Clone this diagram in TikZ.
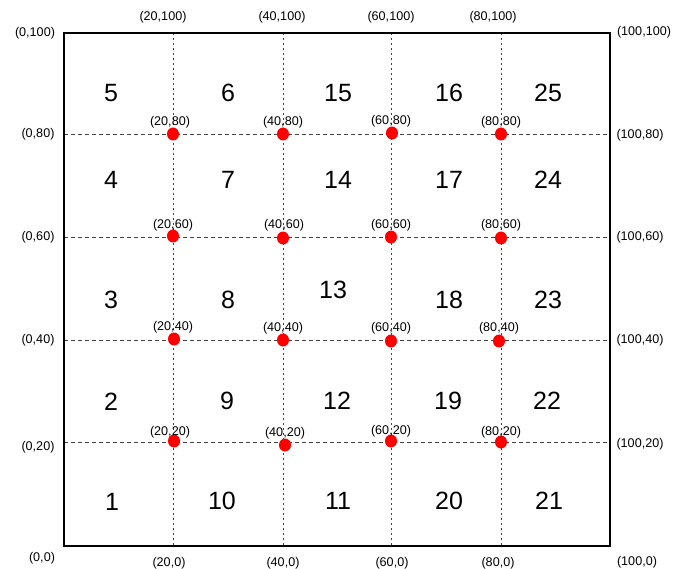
\documentclass[tikz,border=0pt]{standalone}
\usepackage{fontspec}
\setmainfont{Liberation Sans}
\usetikzlibrary{shapes.geometric}
\begin{document}
\begin{tikzpicture}[x=1pt,y=-1pt,
  lbl/.style={font=\fontsize{12.6}{12.6}\selectfont, inner sep=0pt},
  num/.style={font=\fontsize{25}{25}\selectfont, inner sep=0pt},
  hgrid/.style={draw=black!75, line width=0.8pt, dash pattern=on 4pt off 3pt},
  vgrid/.style={draw=black!75, line width=0.9pt, dash pattern=on 2pt off 3pt},
  pt/.style={ellipse, fill=red, inner sep=0pt, minimum width=12pt, minimum height=13pt},
  frame/.style={draw=black, line width=2pt}]
\useasboundingbox (0,0) rectangle (682,569);
% frame corners
\coordinate (TL) at (64,33);
\coordinate (BR) at (610,546);
% grid line ends
\coordinate (v1t) at (173,33); \coordinate (v1b) at (173,546);
\coordinate (v2t) at (283,33); \coordinate (v2b) at (283,546);
\coordinate (v3t) at (391,33); \coordinate (v3b) at (391,546);
\coordinate (v4t) at (501,33); \coordinate (v4b) at (501,546);
\coordinate (h1l) at (64,134); \coordinate (h1r) at (610,134);
\coordinate (h2l) at (64,237); \coordinate (h2r) at (610,237);
\coordinate (h3l) at (64,340); \coordinate (h3r) at (610,340);
\coordinate (h4l) at (64,442); \coordinate (h4r) at (610,442);
\draw[hgrid] (h1l) -- (h1r);
\draw[hgrid] (h2l) -- (h2r);
\draw[hgrid] (h3l) -- (h3r);
\draw[hgrid] (h4l) -- (h4r);
\draw[vgrid] (v1t) -- (v1b);
\draw[vgrid] (v2t) -- (v2b);
\draw[vgrid] (v3t) -- (v3b);
\draw[vgrid] (v4t) -- (v4b);
\draw[frame] (TL) rectangle (BR);
% red points
\node[pt] (p2080) at (173,134) {};
\node[pt] (p4080) at (283,134) {};
\node[pt] (p6080) at (392,133) {};
\node[pt] (p8080) at (501,134) {};
\node[pt] (p2060) at (173,236) {};
\node[pt] (p4060) at (283,238) {};
\node[pt] (p6060) at (391,237) {};
\node[pt] (p8060) at (501,238) {};
\node[pt] (p2040) at (174,339) {};
\node[pt] (p4040) at (283,340) {};
\node[pt] (p6040) at (391,341) {};
\node[pt] (p8040) at (499,341) {};
\node[pt] (p2020) at (174,441) {};
\node[pt] (p4020) at (285,445) {};
\node[pt] (p6020) at (391,441) {};
\node[pt] (p8020) at (501,442) {};
% point labels
\node[lbl] (l2080) at (170,122) {(20,80)};
\node[lbl] (l4080) at (283,122) {(40,80)};
\node[lbl] (l6080) at (391,121) {(60,80)};
\node[lbl] (l8080) at (501,122) {(80,80)};
\node[lbl] (l2060) at (173,225) {(20,60)};
\node[lbl] (l4060) at (284,225) {(40,60)};
\node[lbl] (l6060) at (391,225) {(60,60)};
\node[lbl] (l8060) at (501,225) {(80,60)};
\node[lbl] (l2040) at (173,327) {(20,40)};
\node[lbl] (l4040) at (283,328) {(40,40)};
\node[lbl] (l6040) at (391,328) {(60,40)};
\node[lbl] (l8040) at (499,328) {(80,40)};
\node[lbl] (l2020) at (170,432) {(20,20)};
\node[lbl] (l4020) at (285,433) {(40,20)};
\node[lbl] (l6020) at (391,431) {(60,20)};
\node[lbl] (l8020) at (501,432) {(80,20)};
% border labels
\node[lbl] (t0) at (35,33) {(0,100)};
\node[lbl] (t20) at (163,17) {(20,100)};
\node[lbl] (t40) at (282,17) {(40,100)};
\node[lbl] (t60) at (391,17) {(60,100)};
\node[lbl] (t80) at (493,17) {(80,100)};
\node[lbl] (t100) at (644,32) {(100,100)};
\node[lbl] (lf80) at (38,134) {(0,80)};
\node[lbl] (lf60) at (38,237) {(0,60)};
\node[lbl] (lf40) at (38,340) {(0,40)};
\node[lbl] (lf20) at (38,447) {(0,20)};
\node[lbl] (b0) at (42,558) {(0,0)};
\node[lbl] (b20) at (169,563) {(20,0)};
\node[lbl] (b40) at (283,563) {(40,0)};
\node[lbl] (b60) at (392,563) {(60,0)};
\node[lbl] (b80) at (498,563) {(80,0)};
\node[lbl] (b100) at (637,562) {(100,0)};
\node[lbl] (r80) at (640,135) {(100,80)};
\node[lbl] (r60) at (640,237) {(100,60)};
\node[lbl] (r40) at (640,340) {(100,40)};
\node[lbl] (r20) at (640,444) {(100,20)};
% cell numbers
\node[num] (n5) at (111,93) {5};
\node[num] (n6) at (228,93) {6};
\node[num] (n15) at (338,93) {15};
\node[num] (n16) at (449,93) {16};
\node[num] (n25) at (548,93) {25};
\node[num] (n4) at (111,180) {4};
\node[num] (n7) at (228,180) {7};
\node[num] (n14) at (338,180) {14};
\node[num] (n17) at (449,180) {17};
\node[num] (n24) at (548,180) {24};
\node[num] (n3) at (111,300) {3};
\node[num] (n8) at (228,300) {8};
\node[num] (n13) at (333,290) {13};
\node[num] (n18) at (449,300) {18};
\node[num] (n23) at (548,300) {23};
\node[num] (n2) at (111,402) {2};
\node[num] (n9) at (227,401) {9};
\node[num] (n12) at (337,401) {12};
\node[num] (n19) at (448,401) {19};
\node[num] (n22) at (547,401) {22};
\node[num] (n1) at (112,502) {1};
\node[num] (n10) at (222,501) {10};
\node[num] (n11) at (338,501) {11};
\node[num] (n20) at (449,501) {20};
\node[num] (n21) at (549,501) {21};
\end{tikzpicture}
\end{document}
